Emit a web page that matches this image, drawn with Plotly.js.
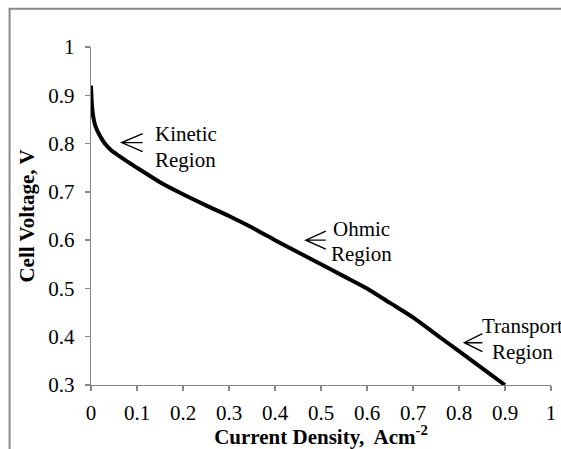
<!DOCTYPE html>
<html>
<head>
<meta charset="utf-8">
<script src="https://cdn.plot.ly/plotly-3.0.1.min.js"></script>
<style>html,body{margin:0;padding:0;background:#fff;}</style>
</head>
<body>
<div id="chart" style="width:561px;height:449px;"></div>
<script>
// Data
const currentDensity = [0, 0.002, 0.005, 0.01, 0.02, 0.03, 0.045, 0.06, 0.08, 0.1, 0.15, 0.2, 0.25, 0.3, 0.35, 0.4, 0.45, 0.5, 0.55, 0.6, 0.65, 0.7, 0.75, 0.8, 0.85, 0.9];
const cellVoltage    = [0.92, 0.88, 0.855, 0.835, 0.815, 0.80, 0.785, 0.775, 0.762, 0.75, 0.72, 0.695, 0.672, 0.65, 0.626, 0.6, 0.575, 0.55, 0.525, 0.5, 0.47, 0.44, 0.405, 0.37, 0.335, 0.3];
const xTickVals = [0, 0.1, 0.2, 0.3, 0.4, 0.5, 0.6, 0.7, 0.8, 0.9, 1];
const xTickText = ["0", "0.1", "0.2", "0.3", "0.4", "0.5", "0.6", "0.7", "0.8", "0.9", "1"];
const yTickVals = [0.3, 0.4, 0.5, 0.6, 0.7, 0.8, 0.9, 1];
const yTickText = ["0.3", "0.4", "0.5", "0.6", "0.7", "0.8", "0.9", "1"];
const regionLabels = [["Kinetic", "Region"], ["Ohmic", "Region"], ["Transport", "Region"]];
const regionLabelX = [0.206, 0.5885, 0.938];
const regionLabelY = [[0.82, 0.766], [0.623, 0.571], [0.422, 0.368]];
const arrowTipX = [0.0667, 0.467, 0.8116];
const arrowTipY = [0.802, 0.600, 0.3876];
const arrowLen = [21, 20, 18];

const FONT = "Liberation Serif";
const GRAY = "#868686";

const annotations = [];
regionLabels.forEach((lines, i) => {
  lines.forEach((t, j) => {
    annotations.push({
      x: regionLabelX[i], y: regionLabelY[i][j], xref: "x", yref: "y",
      text: t, showarrow: false, xanchor: "center", yanchor: "middle",
      font: {family: FONT, size: 21, color: "#000"}
    });
  });
});

const shapes = arrowTipX.map((ax, i) => ({
  type: "path", xref: "x", yref: "y",
  xsizemode: "pixel", ysizemode: "pixel",
  xanchor: ax, yanchor: arrowTipY[i],
  path: `M0,0 L${arrowLen[i]},0 M${arrowLen[i]},9 L0,0 L${arrowLen[i]},-9`,
  line: {color: "#000", width: 1.4}
}));
// outer chart-area border (cut off at right and bottom like the reference)
shapes.push({
  type: "rect", xref: "paper", yref: "paper",
  x0: -0.177, x1: 1.2, y0: -0.4, y1: 1.113,
  line: {color: "#8a8a8a", width: 2}, fillcolor: "rgba(0,0,0,0)", layer: "below"
});

const trace = {
  x: currentDensity, y: cellVoltage, type: "scatter", mode: "lines",
  line: {color: "#000", width: 4, shape: "spline", smoothing: 0.6},
  hoverinfo: "skip", cliponaxis: false
};

const layout = {
  width: 561, height: 449,
  margin: {l: 91, r: 10, t: 47, b: 64, pad: 0},
  paper_bgcolor: "#fff", plot_bgcolor: "#fff",
  font: {family: FONT, size: 21, color: "#000"},
  showlegend: false,
  xaxis: {
    range: [0, 1], tickmode: "array", tickvals: xTickVals, ticktext: xTickText,
    showline: true, linecolor: GRAY, linewidth: 1.3, mirror: false,
    ticks: "outside", ticklen: 5, tickwidth: 1.3, tickcolor: GRAY,
    showgrid: false, zeroline: false,
    tickfont: {family: FONT, size: 21, color: "#000"},
    ticklabelstandoff: 3,
    title: {text: "<b>Current Density,&nbsp; Acm<sup>-2</sup></b>", font: {family: FONT, size: 21, color: "#000"}, standoff: 2}
  },
  yaxis: {
    range: [0.3, 1], tickmode: "array", tickvals: yTickVals, ticktext: yTickText,
    showline: true, linecolor: GRAY, linewidth: 1.3,
    ticks: "outside", ticklen: 5, tickwidth: 1.3, tickcolor: GRAY,
    showgrid: false, zeroline: false,
    tickfont: {family: FONT, size: 21, color: "#000"},
    ticklabelstandoff: 6,
    title: {text: "<b>Cell Voltage, V</b>", font: {family: FONT, size: 21, color: "#000"}, standoff: 8}
  },
  annotations: annotations,
  shapes: shapes
};

Plotly.newPlot("chart", [trace], layout, {displayModeBar: false, staticPlot: true});
</script>
</body>
</html>
